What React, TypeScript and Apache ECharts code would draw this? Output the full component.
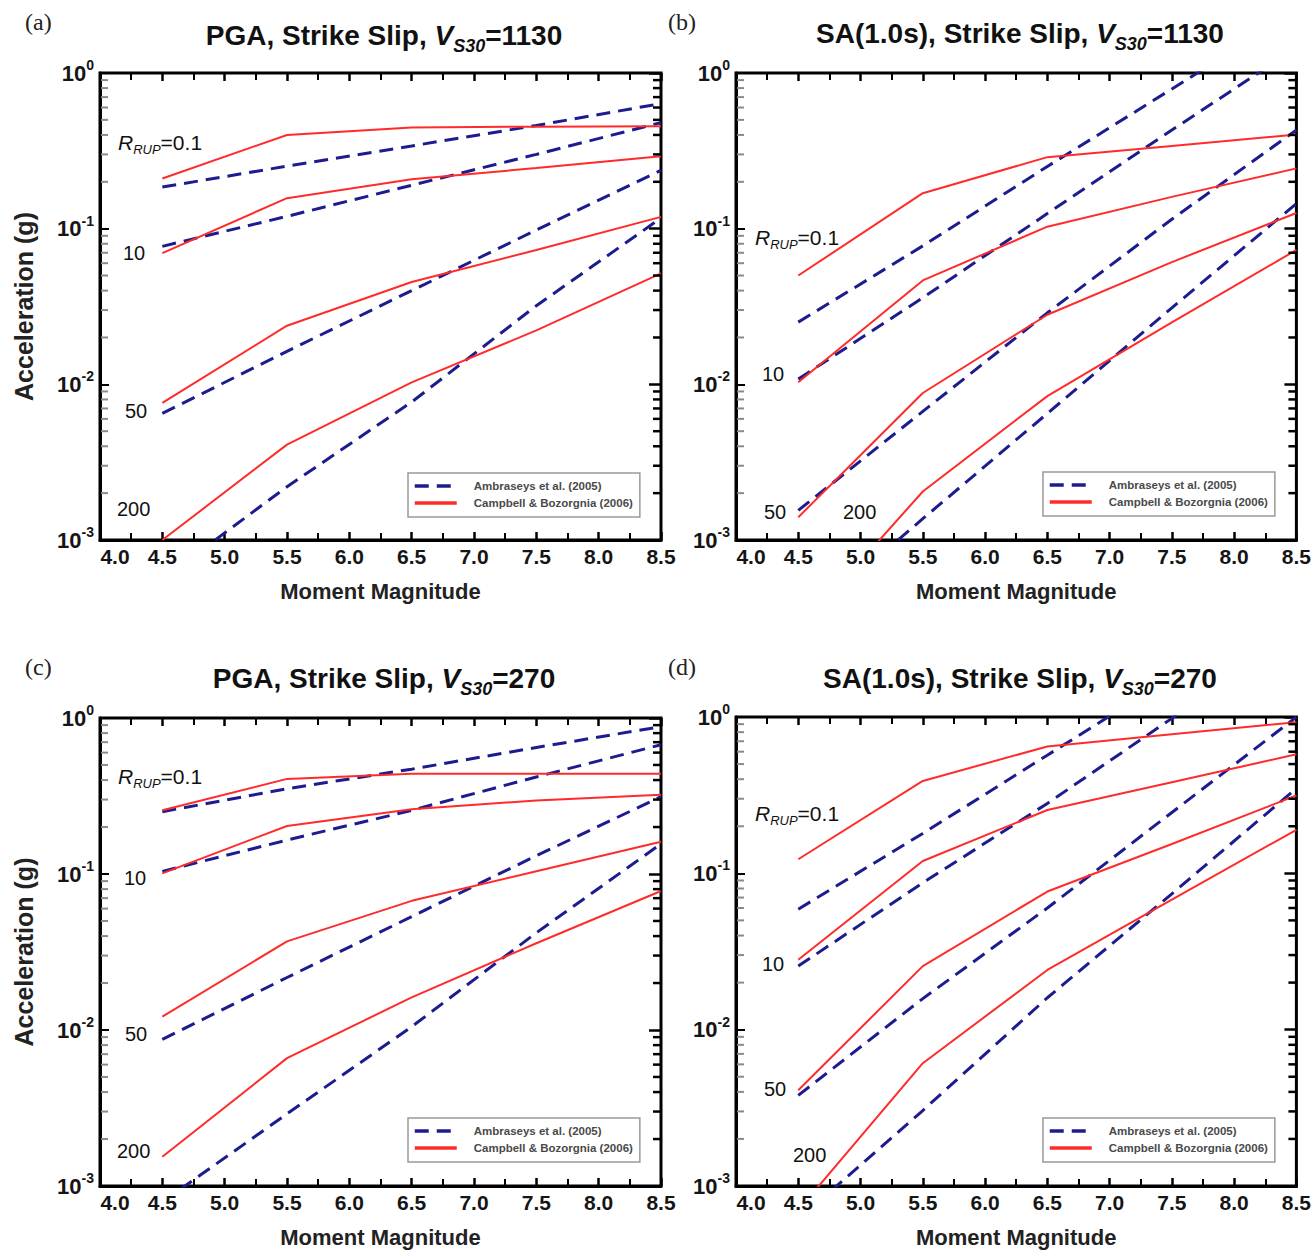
import React, { useEffect, useRef } from 'react';
import * as echarts from 'echarts';

// ---------------- data ----------------
const magnitudes = [4.5, 5.5, 6.5, 7.5, 8.5];
const distanceLabels = ['0.1', '10', '50', '200'];
const AMB = 'Ambraseys et al. (2005)';
const CB = 'Campbell & Bozorgnia (2006)';

// (a) PGA, Strike Slip, Vs30 = 1130   (rows: Rrup = 0.1, 10, 50, 200 km)
const pga1130Campbell = [
  [0.21, 0.4, 0.447, 0.452, 0.455],
  [0.0697, 0.157, 0.208, 0.245, 0.292],
  [0.0076, 0.0238, 0.0454, 0.073, 0.119],
  [0.001, 0.0041, 0.0103, 0.0222, 0.0516],
];
const pga1130Ambraseys = [
  [0.185, 0.252, 0.34, 0.46, 0.636],
  [0.077, 0.12, 0.19, 0.3, 0.48],
  [0.0065, 0.0163, 0.04, 0.098, 0.237],
  [0.00056, 0.0022, 0.0077, 0.032, 0.117],
];

// (b) SA(1.0s), Strike Slip, Vs30 = 1130
const sa1130Campbell = [
  [0.05, 0.169, 0.288, 0.34, 0.402],
  [0.0103, 0.0465, 0.103, 0.16, 0.244],
  [0.0014, 0.0088, 0.028, 0.061, 0.126],
  [0.00026, 0.00205, 0.0084, 0.025, 0.073],
];
const sa1130Ambraseys = [
  [0.0251, 0.0775, 0.251, 0.79, 2.5],
  [0.0108, 0.036, 0.125, 0.43, 1.45],
  [0.00155, 0.0067, 0.0288, 0.115, 0.43],
  [0.00028, 0.00137, 0.0065, 0.031, 0.145],
];

// (c) PGA, Strike Slip, Vs30 = 270
const pga270Campbell = [
  [0.256, 0.407, 0.439, 0.439, 0.439],
  [0.101, 0.203, 0.26, 0.296, 0.322],
  [0.0122, 0.037, 0.0673, 0.104, 0.161],
  [0.00154, 0.0066, 0.0162, 0.036, 0.0778],
];
const pga270Ambraseys = [
  [0.251, 0.352, 0.47, 0.647, 0.88],
  [0.104, 0.165, 0.256, 0.419, 0.674],
  [0.0087, 0.0217, 0.0533, 0.131, 0.313],
  [0.00079, 0.0029, 0.0105, 0.042, 0.156],
];

// (d) SA(1.0s), Strike Slip, Vs30 = 270
const sa270Campbell = [
  [0.123, 0.39, 0.648, 0.776, 0.927],
  [0.028, 0.12, 0.254, 0.383, 0.577],
  [0.0041, 0.0255, 0.0765, 0.154, 0.315],
  [0.0007, 0.0061, 0.0241, 0.068, 0.19],
];
const sa270Ambraseys = [
  [0.059, 0.18, 0.57, 1.8, 5.6],
  [0.0255, 0.087, 0.28, 0.98, 3.3],
  [0.0038, 0.0158, 0.06, 0.245, 1.0],
  [0.00061, 0.00304, 0.016, 0.074, 0.35],
];

// log-axis minor tick positions (2..9 x each decade)
const minorTickValues = [
  0.002, 0.003, 0.004, 0.005, 0.006, 0.007, 0.008, 0.009,
  0.02, 0.03, 0.04, 0.05, 0.06, 0.07, 0.08, 0.09,
  0.2, 0.3, 0.4, 0.5, 0.6, 0.7, 0.8, 0.9,
];

// ---------------- styling ----------------
const FONT = "'Liberation Sans', Arial, Helvetica, sans-serif";
const SERIF = "'Liberation Serif', 'Times New Roman', serif";
const BLUE = '#1c1c8e';
const RED = '#ff2b2b';

const panels = [
  {
    tag: '(a)', tagPos: [25, 22], prefix: 'PGA, Strike Slip, ', vs: '1130', titlePos: [384, 35],
    campbell: pga1130Campbell, ambraseys: pga1130Ambraseys,
    grid: { left: 100, top: 73, width: 561, height: 467 }, yName: true,
    legendPos: [408, 473],
    notes: [[118, 142], [123, 253], [125, 411], [117, 509]],
  },
  {
    tag: '(b)', tagPos: [668, 22], prefix: 'SA(1.0s), Strike Slip, ', vs: '1130', titlePos: [1020, 33],
    campbell: sa1130Campbell, ambraseys: sa1130Ambraseys,
    grid: { left: 736, top: 73, width: 561, height: 467 }, yName: false,
    legendPos: [1043, 472],
    notes: [[755, 237], [762, 374], [764, 512], [843, 512]],
  },
  {
    tag: '(c)', tagPos: [25, 667], prefix: 'PGA, Strike Slip, ', vs: '270', titlePos: [384, 678],
    campbell: pga270Campbell, ambraseys: pga270Ambraseys,
    grid: { left: 100, top: 718, width: 561, height: 468 }, yName: true,
    legendPos: [408, 1118],
    notes: [[118, 776], [124, 878], [125, 1034], [117, 1151]],
  },
  {
    tag: '(d)', tagPos: [668, 667], prefix: 'SA(1.0s), Strike Slip, ', vs: '270', titlePos: [1020, 678],
    campbell: sa270Campbell, ambraseys: sa270Ambraseys,
    grid: { left: 736, top: 717, width: 561, height: 469 }, yName: false,
    legendPos: [1043, 1118],
    notes: [[755, 813], [762, 964], [764, 1089], [793, 1155]],
  },
];

function buildOption() {
  const grid: any[] = [];
  const xAxis: any[] = [];
  const yAxis: any[] = [];
  const series: any[] = [];
  const title: any[] = [];
  const legend: any[] = [];
  const graphics: any[] = [];

  panels.forEach((p, i) => {
    grid.push({
      ...p.grid,
      show: true,
      borderColor: '#000',
      borderWidth: 3,
      backgroundColor: 'transparent',
      containLabel: false,
    });

    // bottom x axis
    xAxis.push({
      type: 'value', gridIndex: i, position: 'bottom', min: 4, max: 8.5, interval: 0.5,
      name: 'Moment Magnitude', nameLocation: 'middle', nameGap: 40,
      nameTextStyle: { fontFamily: FONT, fontSize: 22, fontWeight: 'bold', color: '#222' },
      axisLine: { show: true, onZero: false, lineStyle: { color: '#000', width: 3 } },
      axisTick: { show: true, inside: true, length: 8, lineStyle: { color: '#000', width: 2.5 } },
      minorTick: { show: true, splitNumber: 2, length: 7, lineStyle: { color: '#000', width: 2 } },
      splitLine: { show: false },
      axisLabel: {
        show: true, margin: 6, fontFamily: FONT, fontSize: 21, fontWeight: 'bold', color: '#151515',
        formatter: (v: number) => (v === 4 ? '{f|4.0}' : v.toFixed(1)),
        rich: { f: { fontFamily: FONT, fontSize: 21, fontWeight: 'bold', color: '#151515', padding: [0, 0, 0, 30] } },
      },
    });
    // top mirror x axis
    xAxis.push({
      type: 'value', gridIndex: i, position: 'top', min: 4, max: 8.5, interval: 0.5,
      axisLine: { show: false },
      axisTick: { show: true, inside: true, length: 8, lineStyle: { color: '#000', width: 2.5 } },
      minorTick: { show: true, splitNumber: 2, length: 7, lineStyle: { color: '#000', width: 2 } },
      splitLine: { show: false },
      axisLabel: { show: false },
    });
    // left log y axis
    yAxis.push({
      type: 'log', logBase: 10, gridIndex: i, position: 'left', min: 0.001, max: 1, splitNumber: 3,
      name: p.yName ? 'Acceleration (g)' : '', nameLocation: 'middle', nameGap: 64,
      nameTextStyle: { fontFamily: FONT, fontSize: 25, fontWeight: 'bold', color: '#222' },
      axisLine: { show: true, onZero: false, lineStyle: { color: '#000', width: 3 } },
      axisTick: { show: true, inside: true, length: 9, lineStyle: { color: '#000', width: 2 } },
      minorTick: { show: false },
      splitLine: { show: false },
      axisLabel: {
        show: true, margin: 6,
        formatter: (v: number) => `{b|10}{e|${Math.round(Math.log10(v))}}`,
        rich: {
          b: { fontFamily: FONT, fontSize: 22, fontWeight: 'bold', color: '#151515', lineHeight: 30 },
          e: { fontFamily: FONT, fontSize: 14, fontWeight: 'bold', color: '#151515', lineHeight: 14, verticalAlign: 'top' },
        },
      },
    });
    // right mirror y axis
    yAxis.push({
      type: 'log', logBase: 10, gridIndex: i, position: 'right', min: 0.001, max: 1, splitNumber: 3,
      axisLine: { show: false },
      axisTick: { show: true, inside: true, length: 12, lineStyle: { color: '#000', width: 2.5 } },
      splitLine: { show: false },
      axisLabel: { show: false },
    });

    p.ambraseys.forEach((vals) => {
      series.push({
        type: 'line', name: AMB, xAxisIndex: i * 2, yAxisIndex: i * 2,
        data: magnitudes.map((m, k) => [m, vals[k]]),
        symbol: 'none', showSymbol: false, silent: true, z: 2,
        lineStyle: { color: BLUE, width: 3, type: [14, 8] },
        itemStyle: { color: BLUE },
      });
    });
    p.campbell.forEach((vals) => {
      series.push({
        type: 'line', name: CB, xAxisIndex: i * 2, yAxisIndex: i * 2,
        data: magnitudes.map((m, k) => [m, vals[k]]),
        symbol: 'none', showSymbol: false, silent: true, z: 3,
        lineStyle: { color: RED, width: 2, type: 'solid' },
        itemStyle: { color: RED },
      });
    });
    // log minor ticks on left (grey) and right (black) frame edges
    series.push({
      type: 'custom', name: 'minorTicks', xAxisIndex: i * 2, yAxisIndex: i * 2,
      data: minorTickValues.map((v) => [4, v]), encode: { x: 0, y: 1 },
      silent: true, clip: false, z: 5,
      renderItem: (params: any, api: any) => {
        const v = api.value(1);
        const l = api.coord([4, v]);
        const r = api.coord([8.5, v]);
        return {
          type: 'group',
          children: [
            { type: 'line', shape: { x1: l[0] + 1, y1: l[1], x2: l[0] + 8, y2: l[1] }, style: { stroke: '#8a8a8a', lineWidth: 2 } },
            { type: 'line', shape: { x1: r[0] - 8, y1: r[1], x2: r[0], y2: r[1] }, style: { stroke: '#000', lineWidth: 2.5 } },
          ],
        };
      },
    });

    title.push({
      text: `{n|${p.prefix}}{v|V}{s|S30}{n|=${p.vs}}`,
      left: p.titlePos[0], top: p.titlePos[1] - 20, textAlign: 'center', padding: 0,
      textStyle: {
        fontFamily: FONT, fontSize: 28, fontWeight: 'bold', color: '#111',
        rich: {
          n: { fontFamily: FONT, fontSize: 28, fontWeight: 'bold', color: '#111', lineHeight: 40 },
          v: { fontFamily: FONT, fontSize: 28, fontWeight: 'bold', fontStyle: 'italic', color: '#111', lineHeight: 40 },
          s: { fontFamily: FONT, fontSize: 18, fontWeight: 'bold', fontStyle: 'italic', color: '#111', lineHeight: 18, verticalAlign: 'bottom' },
        },
      },
    });

    legend.push({
      data: [AMB, CB], orient: 'vertical', left: p.legendPos[0], top: p.legendPos[1],
      itemWidth: 42, itemHeight: 12, itemGap: 5, padding: [7, 7, 8, 5],
      backgroundColor: '#fff', borderColor: '#9a9a9a', borderWidth: 1.5, borderRadius: 0,
      selectedMode: false, z: 10,
      itemStyle: { opacity: 0 },
      lineStyle: { width: 3.5 },
      textStyle: { fontFamily: FONT, fontSize: 11.5, fontWeight: 'bold', color: '#4a4a4a', padding: [0, 0, 0, 12] },
    });

    graphics.push({
      type: 'text', x: p.tagPos[0], y: p.tagPos[1],
      style: { text: p.tag, fontFamily: SERIF, fontSize: 24, fill: '#222', verticalAlign: 'middle', align: 'left' },
      z: 20,
    });
    p.notes.forEach((pos, k) => {
      const isR = k === 0;
      graphics.push({
        type: 'text', x: pos[0], y: pos[1], z: 20,
        style: isR
          ? {
              text: `{r|R}{s|RUP}{n|=${distanceLabels[0]}}`, verticalAlign: 'middle', align: 'left',
              rich: {
                r: { fontFamily: FONT, fontSize: 21, fontStyle: 'italic', fill: '#111', lineHeight: 28 },
                s: { fontFamily: FONT, fontSize: 13, fontStyle: 'italic', fill: '#111', lineHeight: 13, verticalAlign: 'bottom' },
                n: { fontFamily: FONT, fontSize: 21, fill: '#111', lineHeight: 28 },
              },
            }
          : { text: distanceLabels[k], fontFamily: FONT, fontSize: 20, fill: '#111', verticalAlign: 'middle', align: 'left' },
      });
    });
  });

  return {
    animation: false,
    backgroundColor: '#fff',
    grid, xAxis, yAxis, series, title, legend,
    graphic: { elements: graphics },
  };
}

export default function App() {
  const ref = useRef<HTMLDivElement>(null);
  useEffect(() => {
    const chart = echarts.init(ref.current as HTMLDivElement, null, { renderer: 'svg' });
    chart.setOption(buildOption() as any);
    return () => chart.dispose();
  }, []);
  return (
    <div
      ref={ref}
      style={{ position: 'absolute', left: 0, top: 0, width: 1314, height: 1250, background: '#fff' }}
    />
  );
}
